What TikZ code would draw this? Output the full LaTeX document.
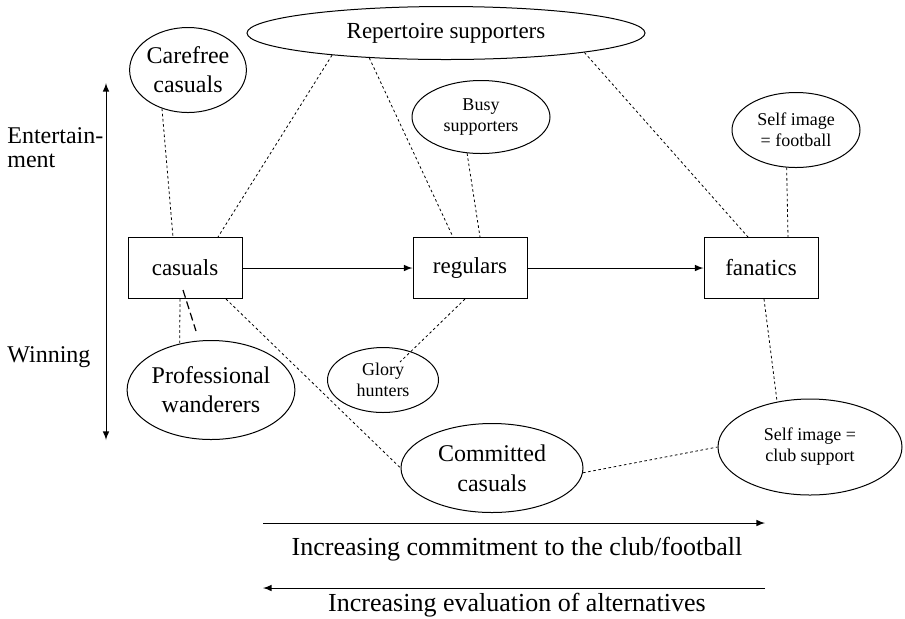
\documentclass[tikz,border=0pt]{standalone}
\usepackage{fontspec}
\setmainfont{LiberationSerif}[Extension=.ttf, UprightFont=*-Regular, BoldFont=*-Bold, ItalicFont=*-Italic]
\usepackage{tikz}
\usetikzlibrary{positioning,shapes.geometric}

\begin{document}
\begin{tikzpicture}[x=0.5pt,y=-0.5pt,
	box/.style={draw, line width=0.5pt, minimum width=57pt, minimum height=30.5pt,
		font=\fontsize{11.5}{14}\selectfont},
	bigoval/.style={draw, ellipse, line width=0.5pt, inner sep=0pt, align=center,
		font=\fontsize{12}{14.5}\selectfont},
	smalloval/.style={draw, ellipse, line width=0.5pt, inner sep=0pt, align=center,
		font=\fontsize{9}{10.5}\selectfont},
	link/.style={line width=0.4pt, dash pattern=on 1.3pt off 1.3pt},
	flow/.style={-latex, line width=0.5pt},
	axislabel/.style={font=\fontsize{12}{12}\selectfont, align=left, inner sep=0pt},
	scalelabel/.style={font=\fontsize{13}{15}\selectfont, inner sep=0pt}]
		
		\useasboundingbox (0,0) rectangle (905,618);
		
		% Main stages
		\node [box] (casuals) at (185,268) {casuals};
		
		\node [box,
		right=85pt of casuals
		] (regulars) {regulars};
		
		\node [box,
		right=88pt of regulars
		] (fanatics) {fanatics};
		
		% Upper groups
		\node [bigoval,
		minimum width=199pt,
		minimum height=26.5pt,
		font=\fontsize{11.5}{14}\selectfont
		] (repertoire) at (446,33) {Repertoire supporters};
		
		\node [bigoval,
		minimum width=55pt,
		minimum height=42.5pt
		] (carefree) at (188,70) {Carefree\\casuals};
		
		\node [smalloval,
		minimum width=69pt,
		minimum height=36.5pt
		] (busy) at (481,117) {Busy\\supporters};
		
		\node [smalloval,
		minimum width=64pt,
		minimum height=37.5pt
		] (selfFoot) at (796,130) {Self image\\= football};
		
		% Lower groups
		\node [bigoval,
		minimum width=76pt,
		minimum height=49.5pt
		] (wanderers) at (211,390) {Professional\\wanderers};
		
		\node [smalloval,
		minimum width=55.5pt,
		minimum height=32.5pt
		] (glory) at (383,380) {Glory\\hunters};
		
		\node [bigoval,
		minimum width=91pt,
		minimum height=44.5pt,
		font=\fontsize{12}{15}\selectfont
		] (committed) at (492,468) {Committed\\casuals};
		
		\node [smalloval,
		minimum width=92pt,
		minimum height=48pt
		] (selfClub) at (810,447) {Self image =\\club support};
		
		% Vertical axis
		\coordinate (axisTop) at (106,83);
		\coordinate (axisBot) at (106,440);
		\node [axislabel, anchor=west] (entLabel) at (7,148) {Entertain-\\ment};
		\node [axislabel, anchor=west] (winLabel) at (7,357) {Winning};
		
		% Horizontal scales
		\coordinate (commitL) at (263,523);
		\coordinate (commitR) at (765,523);
		\node [scalelabel] (commitLabel) at (517,549) {Increasing commitment to the club/football};
		
		\coordinate (evalL) at (263,588);
		\coordinate (evalR) at (765,588);
		\node [scalelabel] (evalLabel) at (517,605) {Increasing evaluation of alternatives};
		
		\coordinate (dashA) at (183,290);
		\coordinate (dashB) at (196,331);
		
		\draw[flow] (casuals) -- (regulars);
		
		\draw[flow] (regulars) -- (fanatics);
		
		\draw[latex-latex, line width=0.5pt] (axisTop) -- (axisBot);
		
		\draw[flow] (commitL) -- (commitR);
		
		\draw[flow] (evalR) -- (evalL);
		
		\draw[link] (carefree.236) -- ([xshift=-6pt]casuals.north);
		
		\draw[link] (repertoire.191) -- ([xshift=16.5pt]casuals.north);
		
		\draw[link] (repertoire.198) -- ([xshift=-8.5pt]regulars.north);
		
		\draw[link] (repertoire.352) -- ([xshift=-6.5pt]fanatics.north);
		
		\draw[link] (busy.249) -- ([xshift=5pt]regulars.north);
		
		\draw[link] (selfFoot.256) -- ([xshift=13.5pt]fanatics.north);
		
		\draw[link] ([xshift=-2.5pt]casuals.south) -- (wanderers.124);
		
		\draw[line width=0.6pt, dash pattern=on 4pt off 2pt] (dashA) -- (dashB);
		
		\draw[link] ([xshift=20.5pt]casuals.south) -- (committed.west);
		
		\draw[link] ([xshift=-2.5pt]regulars.south) -- ([xshift=8.5pt,yshift=9pt]glory.center);
		
		\draw[link] ([xshift=1.5pt]fanatics.south) -- (selfClub.126);
		
		\draw[link] (committed.-3) -- (selfClub.west);
		
\end{tikzpicture}
\end{document}
